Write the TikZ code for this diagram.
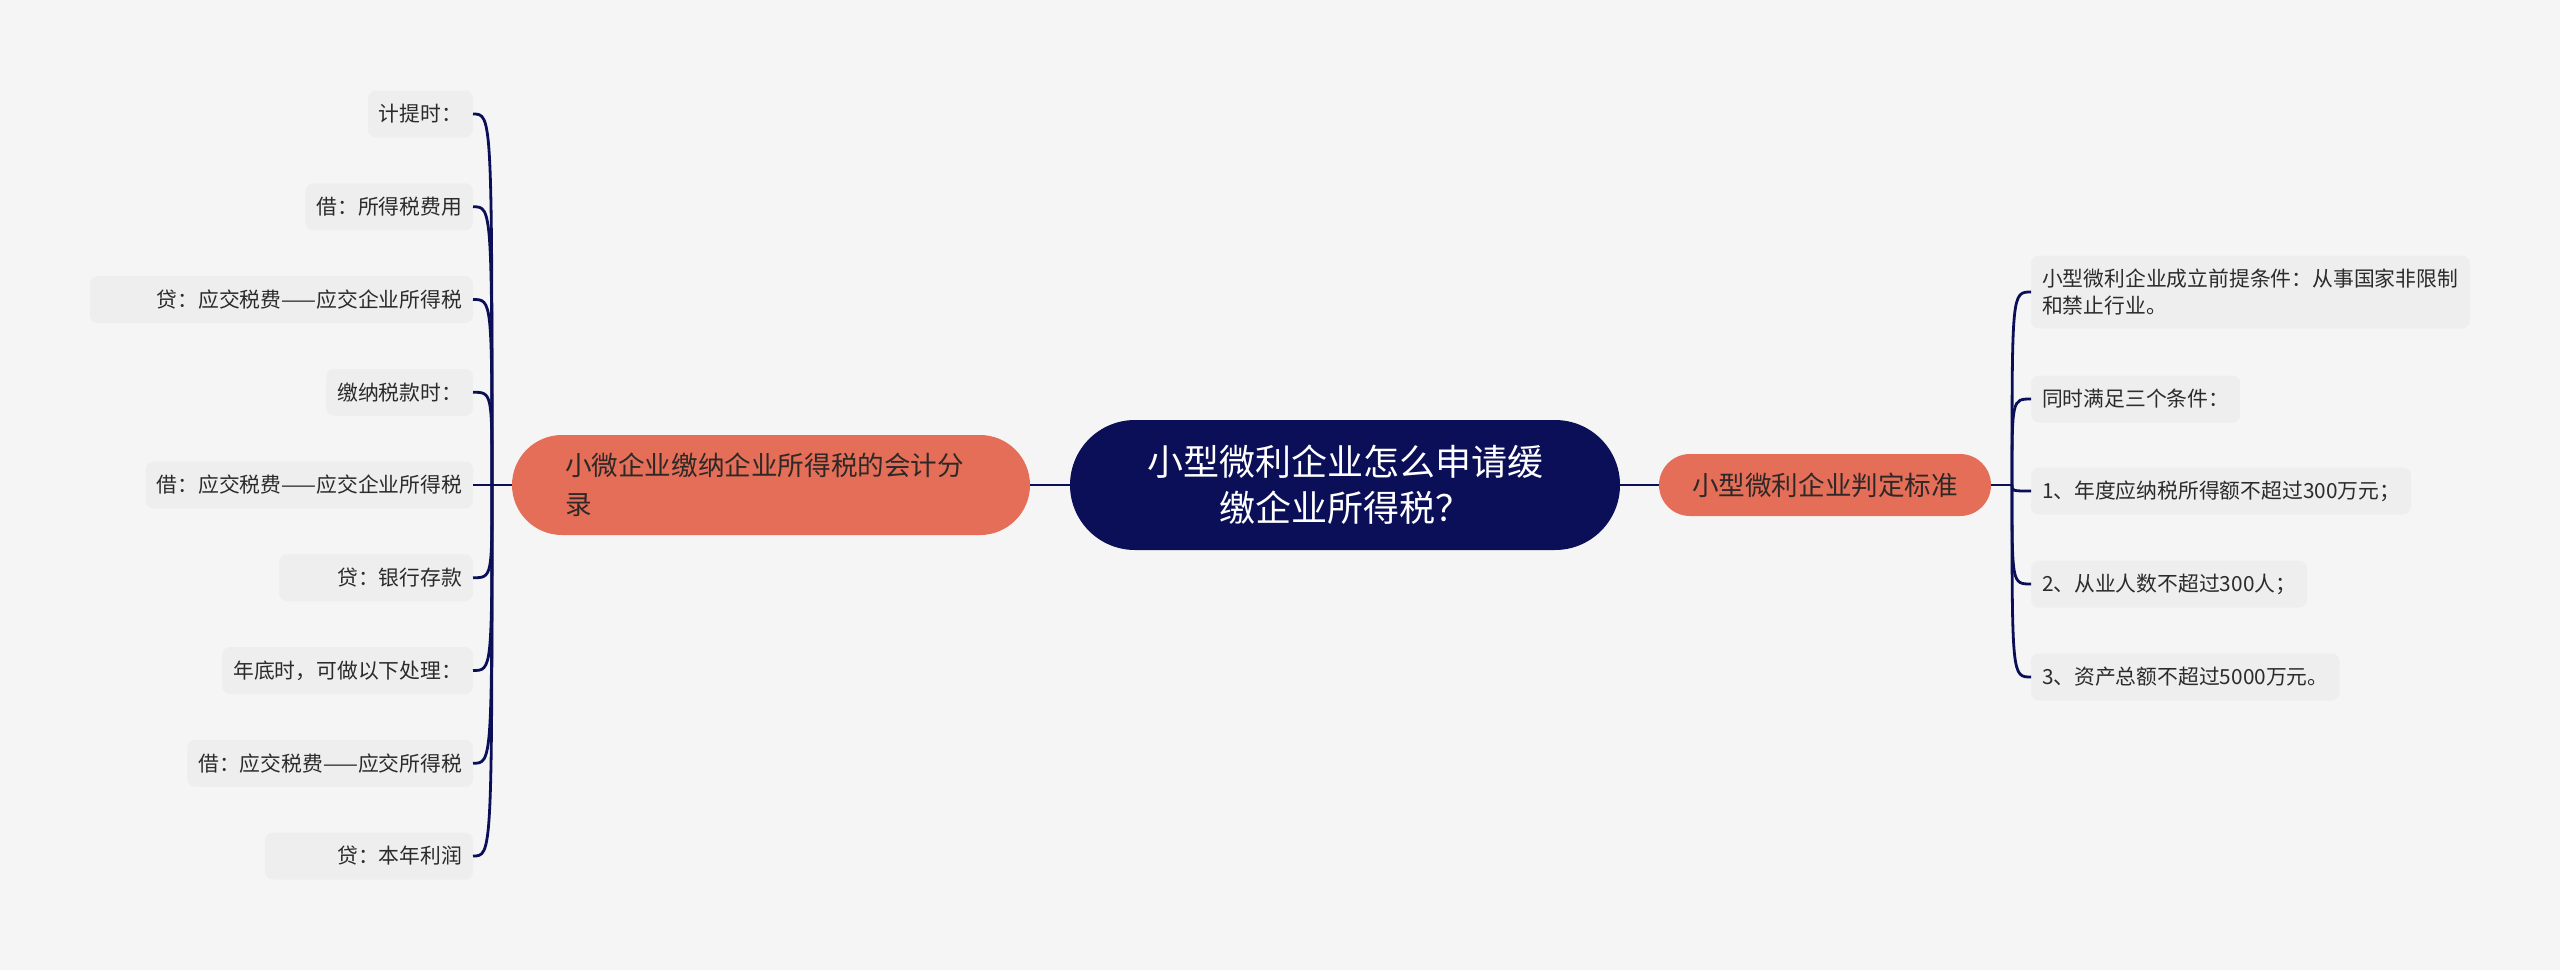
\documentclass[tikz,border=0pt]{standalone}
\usepackage{fontspec}
\setmainfont{Noto Sans CJK SC}
\definecolor{bg}{HTML}{F5F5F5}
\definecolor{navy}{HTML}{0B0F57}
\definecolor{coral}{HTML}{E56E59}
\definecolor{maintext}{HTML}{2E2826}
\definecolor{leaffill}{HTML}{EEEEEE}
\definecolor{leaftext}{HTML}{2B2B2B}
\begin{document}
\begin{tikzpicture}[x=0.5pt,y=-0.5pt,
  every node/.style={inner sep=0pt, outer sep=0pt},
  rootbox/.style={fill=navy, text=white, rounded corners=32.5pt, minimum width=275pt, minimum height=65pt, align=center, font=\fontsize{18}{23}\selectfont},
  mainbox/.style={fill=coral, text=maintext, font=\fontsize{13.3}{19.5}\selectfont},
  leafbox/.style={fill=leaffill, text=leaftext, rounded corners=4pt, minimum height=23.5pt, inner xsep=5.5pt, font=\fontsize{10.4}{13.5}\selectfont},
  leafL/.style={leafbox, anchor=east},
  leafR/.style={leafbox, anchor=west},
  conn/.style={draw=navy, line width=1.4pt}]
\useasboundingbox[fill=bg] (0,0) rectangle (2560,970);

\node[rootbox] (root) at (1345,485) {小型微利企业怎么申请缓\\缴企业所得税？};
\node[mainbox, rounded corners=25pt, minimum width=259pt, minimum height=50pt, text width=206pt, align=left] (L) at (771,485) {小微企业缴纳企业所得税的会计分\\录};
\node[mainbox, rounded corners=15.5pt, minimum width=166pt, minimum height=31pt] (R) at (1825,485) {小型微利企业判定标准};

\coordinate (JL) at (492,485);
\coordinate (JR) at (2012,485);

% left leaves
\node[leafL] (l1) at (473,114) {计提时：};
\node[leafL] (l2) at (473,206.75) {借：所得税费用};
\node[leafL, text width=180.5pt, align=right] (l3) at (473,299.5) {贷：应交税费——应交企业所得税};
\node[leafL] (l4) at (473,392.25) {缴纳税款时：};
\node[leafL] (l5) at (473,485) {借：应交税费——应交企业所得税};
\node[leafL, text width=86pt, align=right] (l6) at (473,577.75) {贷：银行存款};
\node[leafL] (l7) at (473,670.5) {年底时，可做以下处理：};
\node[leafL] (l8) at (473,763.25) {借：应交税费——应交所得税};
\node[leafL, text width=93pt, align=right] (l9) at (473,856) {贷：本年利润};

% right leaves
\node[leafR, text width=208.5pt, align=left, minimum height=36.5pt] (r1) at (2031,292) {小型微利企业成立前提条件：从事国家非限制\\和禁止行业。};
\node[leafR] (r2) at (2031,399) {同时满足三个条件：};
\node[leafR] (r3) at (2031,491) {1、年度应纳税所得额不超过300万元；};
\node[leafR] (r4) at (2031,584) {2、从业人数不超过300人；};
\node[leafR] (r5) at (2031,677) {3、资产总额不超过5000万元。};

% connectors
\draw[conn] (root.west) -- (L.east);
\draw[conn] (root.east) -- (R.west);
\draw[conn] (L.west) -- (JL);
\draw[conn] (R.east) -- (JR);
\foreach \n in {l1,l2,l3,l4,l5,l6,l7,l8,l9}{
  \draw[conn] (\n.east) .. controls (JL |- \n.east) and (JL |- \n.east) .. (JL);
}
\foreach \n in {r1,r2,r3,r4,r5}{
  \draw[conn] (JR) .. controls (JR |- \n.west) and (JR |- \n.west) .. (\n.west);
}
\end{tikzpicture}
\end{document}
